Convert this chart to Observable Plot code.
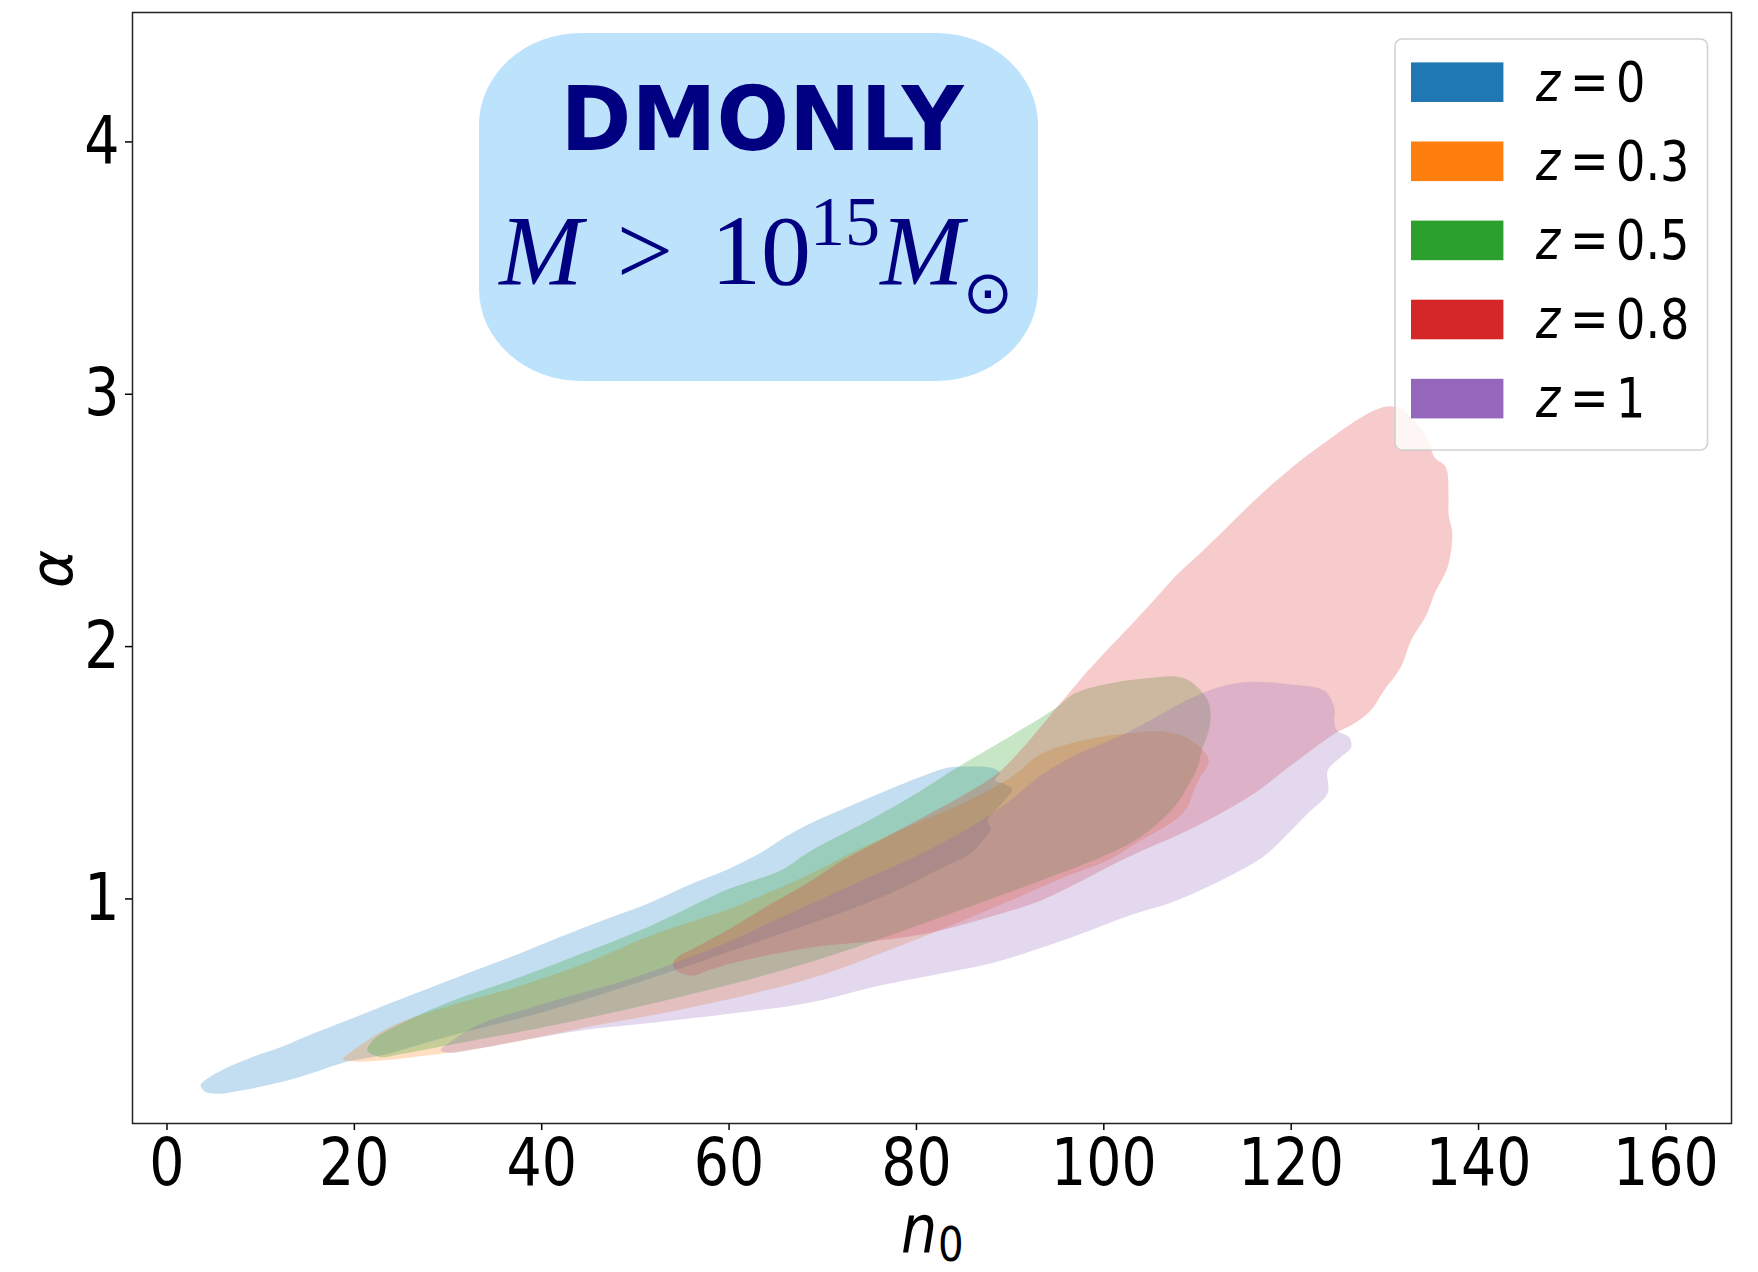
<!DOCTYPE html>
<html><head><meta charset="utf-8">
<script src="https://cdn.jsdelivr.net/npm/d3@7"></script>
<script src="https://cdn.jsdelivr.net/npm/@observablehq/plot@0.6"></script>
<style>html,body{margin:0;padding:0;background:#fff} svg{display:block}</style>
</head><body><div id="chart"></div>
<script>
// ---- data ----
const zLabels = ["0", "0.3", "0.5", "0.8", "1"];
const zColors = ["#1f77b4", "#ff7f0e", "#2ca02c", "#d62728", "#9467bd"];
const zFillColors = ["#1a80c8", "#ff7f0e", "#22a022", "#e03535", "#9467bd"];
const xTicks = [0, 20, 40, 60, 80, 100, 120, 140, 160];
const yTicks = [1, 2, 3, 4];
const xLabelMain = "n", xLabelSub = "0", yLabel = "α";
const boxTitle = "DMONLY";

// contour outlines [n0, alpha], one closed loop per redshift
const contourZ0 = [[3.6,0.262],[4.6,0.295],[6.5,0.333],[9,0.372],[12.1,0.412],[15.5,0.465],[19.2,0.518],[22.8,0.572],[26.4,0.624],[31,0.69],[36.7,0.77],[42,0.85],[46.5,0.915],[51.3,0.981],[56,1.06],[60,1.12],[63.7,1.19],[66,1.245],[68.7,1.30],[72.6,1.363],[76.5,1.425],[80.8,1.489],[83.3,1.52],[85.5,1.525],[88,1.52],[88.9,1.50],[88.4,1.47],[89.4,1.455],[90.2,1.434],[89.4,1.39],[88.4,1.35],[87.6,1.31],[87.9,1.275],[86.9,1.225],[85.8,1.18],[82.2,1.114],[78,1.035],[72,0.945],[65.5,0.862],[58,0.765],[50,0.665],[40,0.55],[30,0.455],[22.8,0.379],[18.9,0.352],[15.5,0.31],[12.1,0.273],[8.5,0.245],[5.2,0.228],[4,0.238]];
const contourZ03 = [[18.8,0.366],[19.5,0.39],[21.4,0.439],[24.2,0.50],[30,0.575],[36.7,0.644],[45,0.75],[51.3,0.85],[60,0.96],[64.5,1.03],[68.7,1.10],[74,1.20],[80,1.30],[85,1.38],[90,1.48],[93.3,1.575],[96.8,1.62],[100,1.645],[102.2,1.654],[105,1.665],[107,1.66],[108.5,1.645],[110.3,1.60],[111.2,1.548],[110.3,1.482],[109.6,1.43],[108.9,1.363],[107.5,1.31],[103.9,1.231],[100.4,1.152],[96,1.09],[93.3,1.046],[86,0.93],[78,0.81],[70,0.70],[62,0.62],[54,0.555],[46,0.50],[38,0.44],[32,0.40],[29.2,0.386],[26,0.372],[22.8,0.36],[20,0.356]];
const contourZ05 = [[21.4,0.40],[22,0.44],[24.2,0.491],[30,0.59],[36.7,0.677],[44,0.78],[51.3,0.888],[60,1.04],[65.5,1.113],[68.7,1.19],[76.2,1.337],[80.5,1.43],[84.4,1.522],[90.4,1.654],[95,1.76],[96.8,1.813],[100.4,1.853],[105.7,1.879],[108.2,1.879],[109.6,1.853],[111.1,1.786],[111.4,1.72],[111.1,1.654],[110.5,1.595],[110,1.522],[108.9,1.443],[107.5,1.363],[103.9,1.245],[100,1.17],[93.3,1.073],[85,0.96],[76,0.84],[68.7,0.75],[60,0.66],[50,0.57],[40,0.49],[30,0.42],[25,0.385],[22.8,0.373]];
const contourZ08 = [[54,0.74],[54.5,0.77],[56,0.80],[60,0.88],[64,0.97],[68.7,1.07],[72,1.15],[76,1.23],[80,1.31],[84,1.39],[88.6,1.496],[91.1,1.588],[93,1.67],[95,1.76],[97.5,1.87],[100.7,2.0],[103,2.09],[105,2.17],[107.9,2.288],[110,2.36],[112.1,2.434],[115.7,2.566],[118.5,2.66],[121,2.738],[124,2.82],[126.4,2.883],[128.5,2.93],[130.3,2.952],[131.8,2.94],[132.8,2.909],[134.5,2.83],[135.3,2.75],[136.5,2.711],[136.8,2.60],[136.8,2.526],[137.2,2.447],[136.7,2.315],[135.3,2.209],[134.5,2.13],[132.8,2.024],[131.7,1.918],[129.9,1.826],[128.5,1.747],[126.5,1.69],[124.6,1.654],[120,1.53],[116,1.417],[112,1.33],[108.2,1.258],[104,1.19],[100.4,1.126],[96.5,1.05],[93.3,0.994],[88,0.93],[82,0.87],[76,0.835],[68.7,0.808],[62,0.76],[58,0.72],[56.2,0.696],[54.6,0.71]];
const contourZ1 = [[29.2,0.40],[30.5,0.44],[33.5,0.505],[38,0.56],[44,0.625],[50,0.69],[54.1,0.745],[60,0.83],[64,0.90],[68.7,0.98],[74,1.07],[80,1.17],[86,1.29],[90,1.39],[93.3,1.49],[97,1.57],[102.2,1.654],[106,1.73],[109,1.79],[111.5,1.83],[114.6,1.858],[117,1.86],[120,1.85],[123.5,1.826],[124.6,1.76],[124.6,1.70],[124.9,1.667],[126.2,1.641],[126.4,1.6],[125.3,1.562],[123.9,1.51],[123.9,1.42],[121.7,1.337],[118.2,1.205],[116.8,1.161],[112.5,1.073],[107.2,0.986],[103.2,0.94],[96,0.84],[88.1,0.746],[82,0.70],[76.2,0.658],[68.7,0.59],[60,0.545],[52,0.51],[44,0.478],[38,0.44],[33,0.405],[30.2,0.39]];
const contours = [contourZ0, contourZ03, contourZ05, contourZ08, contourZ1];

const series = contours.map((pts, i) => ({
  z: zLabels[i], color: zColors[i], fillColor: zFillColors[i],
  points: pts.map(([n0, a]) => ({n0, alpha: a, z: zLabels[i]}))
}));

const plot = Plot.plot({
  width: 1758, height: 1272,
  marginLeft: 132, marginRight: 27, marginTop: 12, marginBottom: 149,
  style: {fontFamily: "DejaVu Sans", fontSize: "66px", color: "#000", background: "#fff", overflow: "visible"},
  x: {domain: [-3.68, 167.0], ticks: xTicks, tickSize: 7, tickPadding: 8, label: null, tickFormat: d => String(d)},
  y: {domain: [0.11, 4.513], ticks: yTicks, tickSize: 7, tickPadding: 6, label: null, tickFormat: d => String(d)},
  marks: [
    ...series.map(s => Plot.line(s.points, {x: "n0", y: "alpha", fill: s.fillColor, fillOpacity: 0.26, stroke: "none", curve: "catmull-rom-closed"})),
    Plot.frame({stroke: "#222", strokeWidth: 1.5})
  ]
});
document.getElementById("chart").append(plot);

const svg = d3.select(plot);
const SX = 0.84;
// condense tick labels like the reference
plot.querySelectorAll('[aria-label^="x-axis"] text, [aria-label^="y-axis"] text').forEach(t => {
  t.setAttribute("transform", (t.getAttribute("transform") || "") + ` scale(${SX},1)`);
});
plot.querySelectorAll('[aria-label^="x-axis"] line, [aria-label^="y-axis"] line, [aria-label^="x-axis"] path, [aria-label^="y-axis"] path').forEach(l => {
  l.setAttribute("stroke-width", 1.5);
});

// ---- annotation box ----
const ann = svg.append("g");
ann.append("rect").attr("x", 479).attr("y", 33).attr("width", 559).attr("height", 348)
  .attr("rx", 102).attr("ry", 92).attr("fill", "#bde3fc");
ann.append("text").attr("transform", "translate(762,150) scale(0.96,1)")
  .attr("text-anchor", "middle").attr("font-family", "DejaVu Sans").attr("font-weight", "bold")
  .attr("font-size", 89).attr("fill", "#000080").text(boxTitle);
const serif = "Liberation Serif";
const mathParts = [
  {t: "M", x: 541, y: 284, fs: 100, it: true, ff: serif},
  {t: ">", x: 645, y: 284, fs: 100, it: false, ff: serif},
  {t: "10", x: 761, y: 284, fs: 100, it: false, ff: serif},
  {t: "15", x: 845, y: 245, fs: 70, it: false, ff: serif},
  {t: "M", x: 922, y: 284, fs: 100, it: true, ff: serif},
  {t: "⊙", x: 988, y: 313, fs: 60, it: false, ff: "DejaVu Sans"}
];
mathParts.forEach(p => ann.append("text").attr("x", p.x).attr("y", p.y).attr("text-anchor", "middle")
  .attr("font-family", p.ff).attr("font-style", p.it ? "italic" : "normal")
  .attr("font-size", p.fs).attr("fill", "#000080").text(p.t));

// ---- legend ----
const lg = svg.append("g").attr("text-anchor", "start");
lg.append("rect").attr("x", 1395).attr("y", 39).attr("width", 312.5).attr("height", 411).attr("rx", 7)
  .attr("fill", "#fff").attr("fill-opacity", 0.8).attr("stroke", "#cccccc").attr("stroke-opacity", 0.9).attr("stroke-width", 1.6);
series.forEach((s, i) => {
  const cy = 82.2 + i * 79.1;
  lg.append("rect").attr("x", 1411).attr("y", cy - 19.8).attr("width", 92.4).attr("height", 39.6).attr("fill", s.color);
  const base = cy + 18.6;
  lg.append("text").attr("text-anchor", "start").attr("transform", `translate(1536,${base}) scale(${SX},1)`).attr("font-family", "DejaVu Sans")
    .attr("font-style", "italic").attr("font-size", 55).text("z");
  lg.append("text").attr("text-anchor", "start").attr("transform", `translate(1570,${base}) scale(${SX},1)`).attr("font-family", "DejaVu Sans")
    .attr("font-size", 55).text("=");
  lg.append("text").attr("text-anchor", "start").attr("transform", `translate(1616,${base}) scale(${SX},1)`).attr("font-family", "DejaVu Sans")
    .attr("font-size", 55).text(s.z);
});

// ---- axis labels ----
svg.append("text").attr("text-anchor", "start").attr("transform", `translate(901,1253) scale(${SX},1)`).attr("font-family", "DejaVu Sans")
  .attr("font-style", "italic").attr("font-size", 68).text(xLabelMain);
svg.append("text").attr("text-anchor", "start").attr("transform", `translate(938,1261) scale(${SX},1)`).attr("font-family", "DejaVu Sans")
  .attr("font-size", 48).text(xLabelSub);
svg.append("text").attr("transform", "translate(72,569) rotate(-90)").attr("text-anchor", "middle")
  .attr("font-family", "DejaVu Sans").attr("font-style", "italic").attr("font-size", 58).text(yLabel);
</script></body></html>
